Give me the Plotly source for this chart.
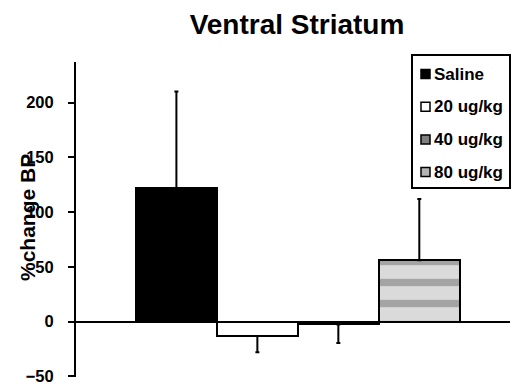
import plotly.graph_objects as go

categories = ["Saline", "20 ug/kg", "40 ug/kg", "80 ug/kg"]
values = [122, -13, -2.5, 56]
errors = [88, 15, 17, 56]
y_ticks = [-50, 0, 50, 100, 150, 200]

fills = ["#000000", "#ffffff", "#808080", "#c8c8c8"]
swatch_fills = ["#000000", "#ffffff", "#808080", "#b4b4b4"]

W, H = 513, 387
L, R, T, B = 76, 3, 62, 10
PW, PH = W - L - R, H - T - B


def px(x):
    return (x - L) / PW


def py(y):
    return (H - B - y) / PH


fig = go.Figure()
for i, (cat, v, e, c) in enumerate(zip(categories, values, errors, fills)):
    pattern = None
    if i == 3:
        pattern = dict(shape="-", fgcolor="#6e6e6e", bgcolor="#dadada", size=21, solidity=0.35)
    fig.add_trace(go.Bar(
        x=[i], y=[v], width=[1], name=cat, showlegend=False,
        marker=dict(color=c, line=dict(color="black", width=2), pattern=pattern),
        error_y=dict(type="data", symmetric=False,
                     array=[e if v >= 0 else 0], arrayminus=[e if v < 0 else 0],
                     color="black", thickness=2, width=2),
    ))

font_b = dict(family="Liberation Sans, Arial", color="black", weight="bold")

shapes = [dict(type="rect", xref="paper", yref="paper",
               x0=px(412), x1=px(510), y0=py(188), y1=py(55),
               line=dict(color="black", width=2), fillcolor="white", layer="above")]
annotations = [dict(text="%change BP", xref="paper", yref="paper", x=0, y=py(218),
                    xshift=-49, textangle=-90, showarrow=False,
                    xanchor="center", yanchor="middle",
                    font=dict(size=21, **font_b))]
for k, (cat, sf) in enumerate(zip(categories, swatch_fills)):
    yc = 74 + k * 32.7
    shapes.append(dict(type="rect", xref="paper", yref="paper",
                       x0=px(421), x1=px(430), y0=py(yc + 4.5), y1=py(yc - 4.5),
                       line=dict(color="black", width=1.5), fillcolor=sf, layer="above"))
    annotations.append(dict(text=cat, xref="paper", yref="paper", x=px(432), y=py(yc),
                            xanchor="left", yanchor="middle", showarrow=False,
                            font=dict(size=17, **font_b)))

fig.update_layout(
    width=W, height=H,
    margin=dict(l=L, r=R, t=T, b=B, autoexpand=False),
    paper_bgcolor="white", plot_bgcolor="white",
    barmode="overlay", bargap=0,
    showlegend=False,
    title=dict(text="Ventral Striatum", x=px(297), xref="paper", xanchor="center",
               y=(H - 24) / H, yanchor="middle",
               font=dict(size=28, **font_b)),
    xaxis=dict(range=[-1.24, 4.12], showline=False, showticklabels=False,
               showgrid=False, zeroline=False, ticks=""),
    yaxis=dict(range=[-50.5, 237], tickvals=y_ticks, showline=True, linecolor="black",
               linewidth=2, ticks="outside", ticklen=6, tickwidth=2, tickcolor="black",
               showgrid=False, zeroline=True, zerolinecolor="black", zerolinewidth=2,
               ticklabelstandoff=11, ticklabeloverflow="allow",
               tickfont=dict(size=16.5, **font_b)),
    shapes=shapes,
    annotations=annotations,
)

fig.write_html("out.html", config={"displayModeBar": False},
               post_script="document.body.style.margin='0';document.body.style.overflow='hidden';")
